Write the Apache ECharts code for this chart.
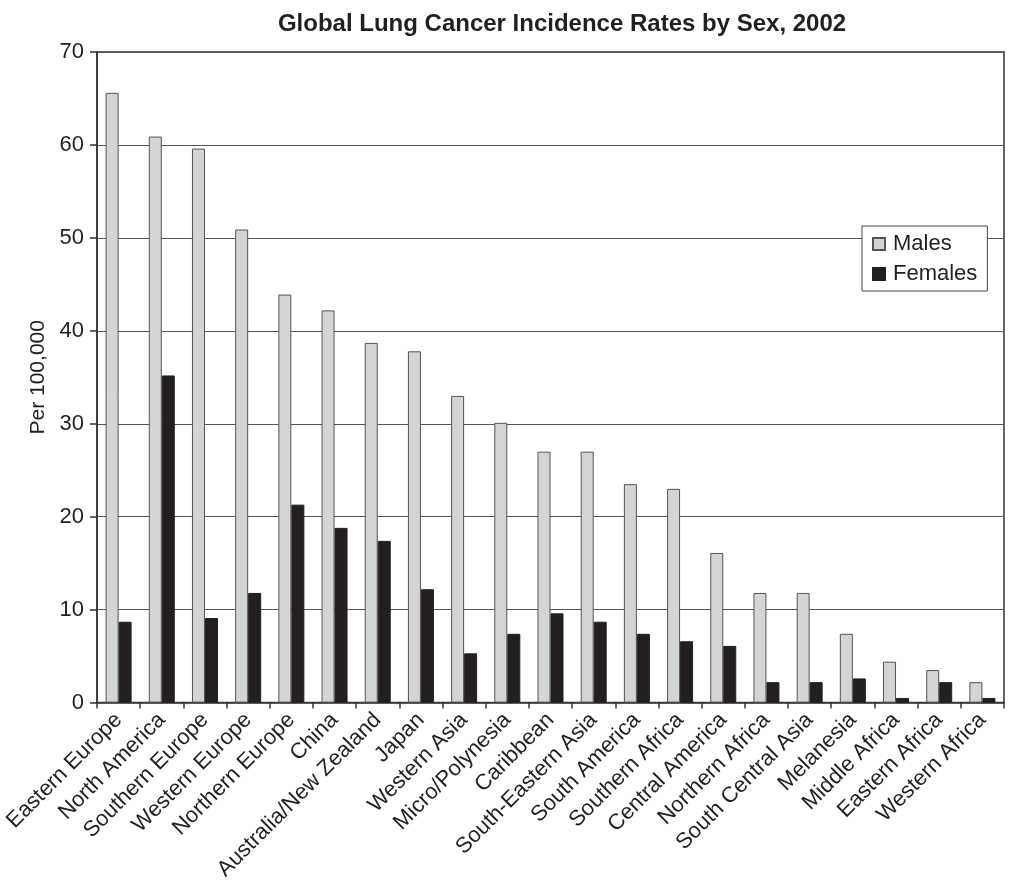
<!DOCTYPE html>
<html>
<head>
<meta charset="utf-8">
<script src="https://cdn.jsdelivr.net/npm/echarts@6/dist/echarts.min.js"></script>
<style>html,body{margin:0;padding:0;background:#fff;}#c{width:1009px;height:883px;}</style>
</head>
<body>
<div id="c"></div>
<script>
const categories = ["Eastern Europe","North America","Southern Europe","Western Europe","Northern Europe","China","Australia/New Zealand","Japan","Western Asia","Micro/Polynesia","Caribbean","South-Eastern Asia","South America","Southern Africa","Central America","Northern Africa","South Central Asia","Melanesia","Middle Africa","Eastern Africa","Western Africa"];
const males = [65.6,60.9,59.6,50.9,43.9,42.2,38.7,37.8,33.0,30.1,27.0,27.0,23.5,23.0,16.1,11.8,11.8,7.4,4.4,3.5,2.2];
const females = [8.7,35.2,9.1,11.8,21.3,18.8,17.4,12.2,5.3,7.4,9.6,8.7,7.4,6.6,6.1,2.2,2.2,2.6,0.5,2.2,0.5];
const yTicks = {min:0, max:70, interval:10};

const FONT = '"Liberation Sans", Arial, Helvetica, sans-serif';
const chart = echarts.init(document.getElementById('c'), null, {renderer:'canvas'});
chart.setOption({
  animation:false,
  backgroundColor:'#fff',
  title:{text:'Global Lung Cancer Incidence Rates by Sex, 2002', left:557, top:7, textAlign:'center',
    textStyle:{fontFamily:FONT, fontWeight:'bold', fontSize:24, color:'#231f20'}},
  legend:{
    orient:'vertical', left:862, top:226, itemWidth:12, itemHeight:12, itemGap:8,
    padding:[7,10,6,10], backgroundColor:'#fff', borderColor:'#444', borderWidth:1,
    textStyle:{fontFamily:FONT, fontSize:22, color:'#231f20', padding:[0,0,0,3]},
    data:[{name:'Males', icon:'rect'},{name:'Females', icon:'rect'}]
  },
  grid:{left:97, right:5, top:52, bottom:178, show:true, borderColor:'#333', borderWidth:1.5, containLabel:false},
  xAxis:{
    type:'category', data:categories,
    axisLine:{lineStyle:{color:'#333', width:1.5}},
    axisTick:{show:true, alignWithLabel:false, length:6, lineStyle:{color:'#333', width:1.5}},
    axisLabel:{rotate:45, interval:0, margin:14, fontFamily:FONT, fontSize:22, color:'#231f20'}
  },
  yAxis:{
    type:'value', min:yTicks.min, max:yTicks.max, interval:yTicks.interval,
    name:'Per 100,000', nameLocation:'middle', nameGap:46, nameRotate:90,
    nameTextStyle:{fontFamily:FONT, fontSize:21, color:'#231f20'},
    axisLine:{show:true, lineStyle:{color:'#333', width:1.5}},
    axisTick:{show:true, length:7, lineStyle:{color:'#333', width:1.5}},
    axisLabel:{margin:13, fontFamily:FONT, fontSize:22, color:'#231f20'},
    splitLine:{show:true, lineStyle:{color:'#555', width:1.2}}
  },
  series:[
    {name:'Males', type:'bar', data:males, barWidth:13, barGap:'0%',
     itemStyle:{color:'#d3d4d6', borderColor:'#555', borderWidth:1}},
    {name:'Females', type:'bar', data:females, barWidth:13,
     itemStyle:{color:'#231f20', borderColor:'#231f20', borderWidth:1}}
  ]
});
</script>
</body>
</html>
